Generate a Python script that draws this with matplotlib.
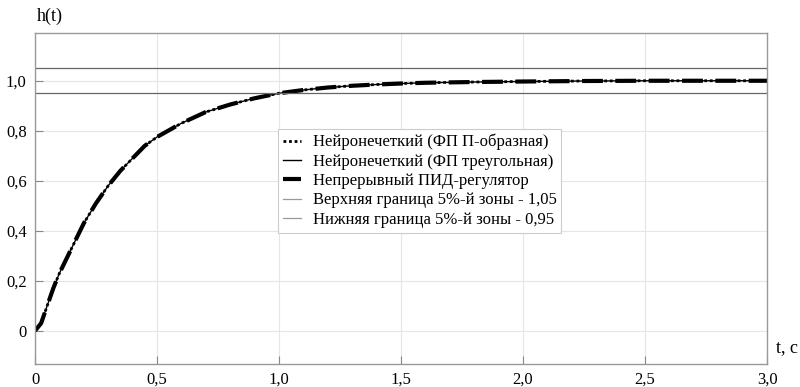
import numpy as np
import matplotlib
matplotlib.use("Agg")
import matplotlib.pyplot as plt

# values
t = [0.0, 0.025, 0.05, 0.075, 0.10, 0.15, 0.20, 0.25, 0.30, 0.35, 0.40, 0.45,
     0.50, 0.60, 0.70, 0.80, 0.90, 1.00, 1.10, 1.20, 1.30, 1.40, 1.50, 1.60,
     1.80, 2.00, 2.25, 2.50, 3.00]
h_fuzzy_pi = [0.0, 0.03, 0.10, 0.17, 0.23, 0.33, 0.43, 0.51, 0.58, 0.64, 0.69, 0.74,
              0.775, 0.83, 0.875, 0.905, 0.93, 0.95, 0.963, 0.973, 0.980, 0.985, 0.989, 0.992,
              0.995, 0.997, 0.999, 1.0, 1.0]
h_fuzzy_tri = list(h_fuzzy_pi)
h_pid = list(h_fuzzy_pi)
upper = 1.05
lower = 0.95

labels = ["Нейронечеткий (ФП П-образная)",
          "Нейронечеткий (ФП треугольная)",
          "Непрерывный ПИД-регулятор",
          "Верхняя граница 5%-й зоны - 1,05",
          "Нижняя граница 5%-й зоны - 0,95"]
xticks = [0, 0.5, 1.0, 1.5, 2.0, 2.5, 3.0]
xtick_labels = ["0", "0,5", "1,0", "1,5", "2,0", "2,5", "3,0"]
yticks = [0, 0.2, 0.4, 0.6, 0.8, 1.0]
ytick_labels = ["0", "0,2", "0,4", "0,6", "0,8", "1,0"]

plt.rcParams['font.family'] = ['Liberation Serif', 'DejaVu Serif']

fig = plt.figure(figsize=(8, 3.87), dpi=100)
ax = fig.add_axes([0.04375, 0.0607, 0.915, 0.854])

ax.plot(t, h_fuzzy_pi, color="black", linestyle=(0, (1, 1)), linewidth=2.0, label=labels[0])
ax.plot(t, h_fuzzy_tri, color="black", linewidth=1.0, label=labels[1])
ax.plot(t, h_pid, color="black", linestyle=(0, (5, 3)), linewidth=3.0, label=labels[2])
ax.axhline(upper, color="#666666", linewidth=0.9, label=labels[3])
ax.axhline(lower, color="#666666", linewidth=0.9, label=labels[4])

ax.set_xlim(0, 3.0)
ax.set_ylim(-0.131, 1.191)
ax.set_xticks(xticks)
ax.set_xticklabels(xtick_labels)
ax.set_yticks(yticks)
ax.set_yticklabels(ytick_labels)
ax.tick_params(direction="in", length=6, color="#888888", labelsize=12, pad=6)
ax.grid(True, color="#e6e6e6", linewidth=0.8)
ax.set_axisbelow(True)
for s in ax.spines.values():
    s.set_color("#999999")
    s.set_linewidth(1.0)

ax.text(0.003, 1.025, "h(t)", transform=ax.transAxes, fontsize=13, ha="left", va="bottom")
ax.text(1.012, 0.047, "t, c", transform=ax.transAxes, fontsize=13, ha="left", va="center")

leg = ax.legend(loc="upper left", bbox_to_anchor=(0.32, 0.735), fontsize=12,
                frameon=True, fancybox=False, edgecolor="#cccccc", framealpha=1,
                handlelength=1.1, handletextpad=0.7, borderpad=0.3, labelspacing=0.2)
leg.get_frame().set_linewidth(0.8)
for line in leg.get_lines()[3:]:
    line.set_color("#999999")

fig.savefig("out.png", dpi=100)
